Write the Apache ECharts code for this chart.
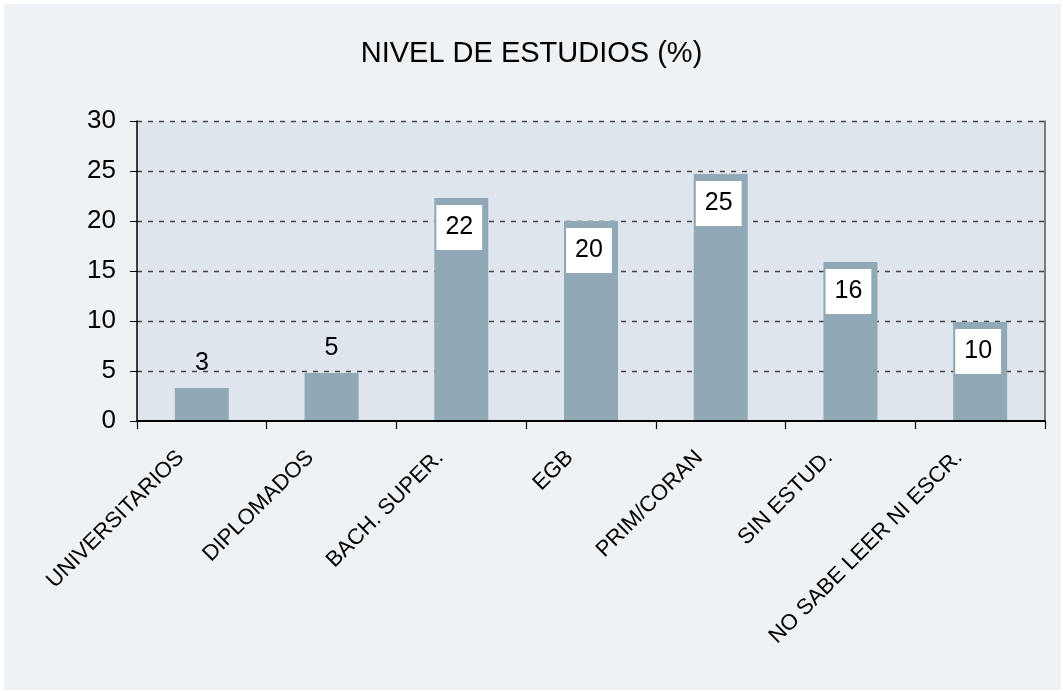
<!DOCTYPE html>
<html>
<head>
<meta charset="utf-8">
<script src="https://cdn.jsdelivr.net/npm/echarts@6/dist/echarts.min.js"></script>
<style>
  html, body { margin: 0; padding: 0; background: #ffffff; }
  #chart { width: 1063px; height: 692px; }
</style>
</head>
<body>
<div id="chart"></div>
<script>
const categories = ['UNIVERSITARIOS', 'DIPLOMADOS', 'BACH. SUPER.', 'EGB', 'PRIM/CORAN', 'SIN ESTUD.', 'NO SABE LEER NI ESCR.'];
const values = [3.3, 4.8, 22.3, 20.0, 24.7, 15.9, 9.9];
const yTicks = [0, 5, 10, 15, 20, 25, 30];

const FONT = "'Liberation Sans', Arial, Helvetica, sans-serif";
const fmt = p => String(Math.round(p.value));

const insideLabel = {
  show: true,
  position: 'insideTop',
  distance: 7,
  offset: [-2, 0],
  formatter: fmt,
  backgroundColor: '#ffffff',
  padding: [10, 9, 10, 9],
  lineHeight: 25,
  fontSize: 25,
  color: '#000',
  fontFamily: FONT
};
const topLabel = {
  show: true,
  position: 'top',
  distance: 12,
  formatter: fmt,
  fontSize: 25,
  color: '#000',
  fontFamily: FONT
};

const barData = values.map(v => ({
  value: v,
  label: v < 8 ? topLabel : insideLabel
}));

const chart = echarts.init(document.getElementById('chart'), null, { renderer: 'canvas' });
chart.setOption({
  backgroundColor: 'transparent',
  animation: false,
  graphic: [{
    type: 'rect',
    z: -10,
    shape: { x: 4, y: 4, width: 1057, height: 686 },
    style: { fill: '#EEF2F5' }
  }],
  title: {
    text: 'NIVEL DE ESTUDIOS (%)',
    left: 'center',
    top: 34,
    textStyle: { fontFamily: FONT, fontSize: 29, fontWeight: 'normal', color: '#000' }
  },
  grid: {
    left: 137, right: 18, top: 121, bottom: 271,
    show: true, backgroundColor: '#DFE5EC', borderWidth: 0
  },
  xAxis: {
    type: 'category',
    data: categories,
    boundaryGap: true,
    z: 10,
    axisLine: { show: true, lineStyle: { color: '#000', width: 2 } },
    axisTick: { show: true, length: 8, alignWithLabel: false, lineStyle: { color: '#000', width: 1.2 } },
    axisLabel: {
      interval: 0,
      rotate: 45,
      margin: 12,
      padding: [0, 30, 0, 0],
      fontSize: 22,
      color: '#000',
      fontFamily: FONT
    }
  },
  yAxis: [{
    type: 'value',
    min: yTicks[0],
    max: yTicks[yTicks.length - 1],
    interval: yTicks[1] - yTicks[0],
    axisLine: { show: true, lineStyle: { color: '#000', width: 1.5 } },
    axisTick: { show: true, length: 7, lineStyle: { color: '#000' } },
    axisLabel: { margin: 21, fontSize: 26, color: '#000', fontFamily: FONT },
    splitLine: { show: true, showMinLine: false, lineStyle: { color: '#444', type: [5, 6], width: 1.3 } }
  }, {
    type: 'value',
    position: 'right',
    min: yTicks[0],
    max: yTicks[yTicks.length - 1],
    interval: yTicks[1] - yTicks[0],
    axisLine: { show: true, lineStyle: { color: '#555', width: 1.5 } },
    axisTick: { show: false },
    axisLabel: { show: false },
    splitLine: { show: false }
  }],
  series: [{
    type: 'bar',
    data: barData,
    barWidth: 54,
    itemStyle: { color: '#91A9B7' }
  }]
});
</script>
</body>
</html>
